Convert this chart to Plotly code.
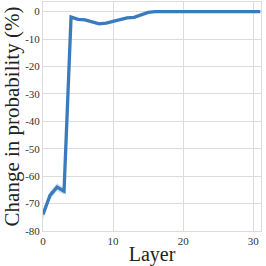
import plotly.graph_objects as go

layers = list(range(32))
change = [-74, -67, -64, -65.5, -2, -2.8, -3, -3.7, -4.5, -4.2, -3.5, -3, -2.3, -2.1, -1.2, -0.3,
          0, 0, 0, 0, 0, 0, 0, 0, 0, 0, 0, 0, 0, 0, 0, 0]
err = [1.6, 1.4, 1.4, 1.2, 0.4, 0.4, 0.4, 0.4, 0.4, 0.4, 0.3, 0.3, 0.3, 0.3, 0.2, 0.1,
       0.05, 0.05, 0.05, 0.05, 0.05, 0.05, 0.05, 0.05, 0.05, 0.05, 0.05, 0.05, 0.05, 0.05, 0.05, 0.05]
x_ticks = [0, 10, 20, 30]
y_ticks = [0, -10, -20, -30, -40, -50, -60, -70, -80]

upper = [c + e for c, e in zip(change, err)]
lower = [c - e for c, e in zip(change, err)]

SERIF = "Liberation Serif"

fig = go.Figure()
fig.add_trace(go.Scatter(x=layers, y=upper, mode="lines", line=dict(width=0), showlegend=False, hoverinfo="skip"))
fig.add_trace(go.Scatter(x=layers, y=lower, mode="lines", line=dict(width=0), fill="tonexty",
                         fillcolor="rgba(59,125,191,0.25)", showlegend=False, hoverinfo="skip"))
fig.add_trace(go.Scatter(x=layers, y=change, mode="lines", line=dict(color="#3a7bbd", width=3.3), showlegend=False))

axis_common = dict(showgrid=True, gridcolor="#dcdcdc", gridwidth=1, showline=True, linecolor="#dcdcdc",
                   linewidth=1, mirror=True, zeroline=False, ticks="", automargin=False,
                   tickfont=dict(family=SERIF, size=11, color="#333333"))
fig.update_xaxes(range=[0, 31.1], tickvals=x_ticks,
                 title=dict(text="Layer", font=dict(family=SERIF, size=20, color="#222222"), standoff=1),
                 **axis_common)
fig.update_yaxes(range=[-80, 3.5], tickvals=y_ticks, ticktext=[str(v) for v in y_ticks],
                 title=dict(text="Change in probability (%)", font=dict(family=SERIF, size=21, color="#222222"), standoff=1),
                 **axis_common)
fig.update_layout(width=266, height=266, margin=dict(l=43, r=5, t=2, b=35),
                  plot_bgcolor="white", paper_bgcolor="white", font=dict(family=SERIF))
fig.write_html("out.html", config={"displayModeBar": False},
               post_script="document.body.style.margin='0';")
